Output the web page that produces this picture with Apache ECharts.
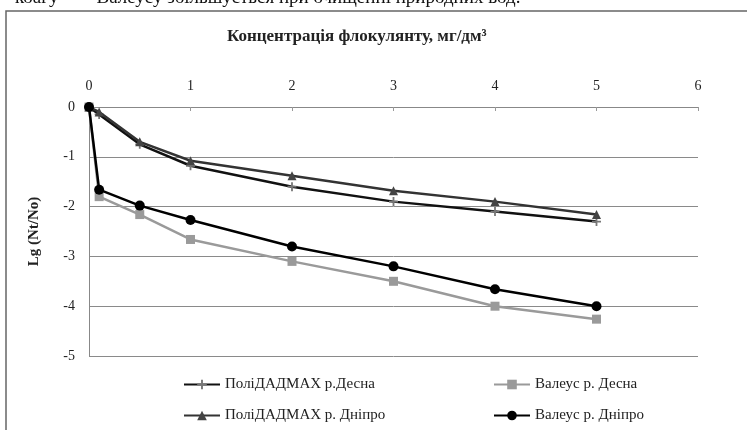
<!DOCTYPE html>
<html>
<head>
<meta charset="utf-8">
<script src="https://cdn.jsdelivr.net/npm/echarts@6/dist/echarts.min.js"></script>
<style>
html,body{margin:0;padding:0;background:#fff;}
#chart{width:747px;height:430px;}
</style>
</head>
<body>
<div id="chart"></div>
<script>
var concentrations = [0, 0.1, 0.5, 1, 2, 3, 4, 5];
var seriesNames = ['ПоліДАДМАХ р.Десна', 'Валеус р. Десна', 'ПоліДАДМАХ р. Дніпро', 'Валеус р. Дніпро'];
var polyDesna = [0, -0.15, -0.75, -1.18, -1.6, -1.9, -2.1, -2.3];
var valeusDesna = [0, -1.8, -2.16, -2.66, -3.1, -3.5, -4.0, -4.26];
var polyDnipro = [0, -0.1, -0.7, -1.08, -1.38, -1.68, -1.9, -2.16];
var valeusDnipro = [0, -1.66, -1.98, -2.27, -2.8, -3.2, -3.66, -4.0];
var xTitle = 'Концентрація флокулянту, мг/дм³';
var yTitle = 'Lg (Nt/No)';
var headerText = 'коагу  —  Валеусу збільшується при очищенні природних вод.';

function pairs(vals){ return concentrations.map(function(x,i){ return [x, vals[i]]; }); }

var serif = '"Liberation Serif", "DejaVu Serif", serif';
var chart = echarts.init(document.getElementById('chart'));
var plusPath = 'path://M4,0h2v4h4v2h-4v4h-2v-4h-4v-2h4z';

function legendAt(name, left, top){
  return {
    data: [name], left: left, top: top,
    itemWidth: 36, itemHeight: 12,
    textStyle: {fontFamily: serif, fontSize: 15, color: '#222'}
  };
}

chart.setOption({
  animation: false,
  backgroundColor: '#fff',
  grid: {left: 89, right: 49, top: 107, bottom: 74},
  graphic: [
    {type: 'rect', shape: {x: 6, y: 11, width: 800, height: 500}, style: {fill: 'none', stroke: '#666', lineWidth: 1.5}, z: 0},
    {type: 'text', left: 15, top: -11, style: {text: headerText, font: '19px ' + serif, fill: '#111'}, z: 10}
  ],
  title: {
    text: xTitle, left: 222, top: 23,
    textStyle: {fontFamily: serif, fontWeight: 'bold', fontSize: 17, color: '#222'}
  },
  legend: [
    legendAt(seriesNames[0], 178, 372),
    legendAt(seriesNames[2], 178, 403),
    legendAt(seriesNames[1], 488, 372),
    legendAt(seriesNames[3], 488, 403)
  ],
  xAxis: {
    type: 'value', position: 'top', min: 0, max: 6, interval: 1,
    axisLine: {show: true, onZero: false, lineStyle: {color: '#888', width: 1}},
    axisTick: {show: true, length: 4, inside: true, lineStyle: {color: '#999'}},
    axisLabel: {fontFamily: serif, fontSize: 14, color: '#222', margin: 14},
    splitLine: {show: false}
  },
  yAxis: {
    type: 'value', min: -5, max: 0, interval: 1,
    name: yTitle, nameLocation: 'middle', nameGap: 47, nameRotate: 90,
    nameTextStyle: {fontFamily: serif, fontWeight: 'bold', fontSize: 15, color: '#222'},
    axisLine: {show: true, lineStyle: {color: '#888', width: 1}},
    axisTick: {show: false},
    axisLabel: {fontFamily: serif, fontSize: 14, color: '#222', margin: 14},
    splitLine: {show: true, lineStyle: {color: '#8a8a8a', width: 1}}
  },
  series: [
    {name: seriesNames[1], type: 'line', data: pairs(valeusDesna), symbol: 'rect', symbolSize: 9,
     lineStyle: {color: '#9a9a9a', width: 2.5}, itemStyle: {color: '#9a9a9a'}, z: 2},
    {name: seriesNames[0], type: 'line', data: pairs(polyDesna), symbol: plusPath, symbolSize: 9,
     lineStyle: {color: '#111', width: 2.5}, itemStyle: {color: '#777'}, z: 3},
    {name: seriesNames[2], type: 'line', data: pairs(polyDnipro), symbol: 'triangle', symbolSize: 9,
     lineStyle: {color: '#333', width: 2.5}, itemStyle: {color: '#444'}, z: 4},
    {name: seriesNames[3], type: 'line', data: pairs(valeusDnipro), symbol: 'circle', symbolSize: 10,
     lineStyle: {color: '#000', width: 2.5}, itemStyle: {color: '#000'}, z: 5}
  ]
});
</script>
</body>
</html>
